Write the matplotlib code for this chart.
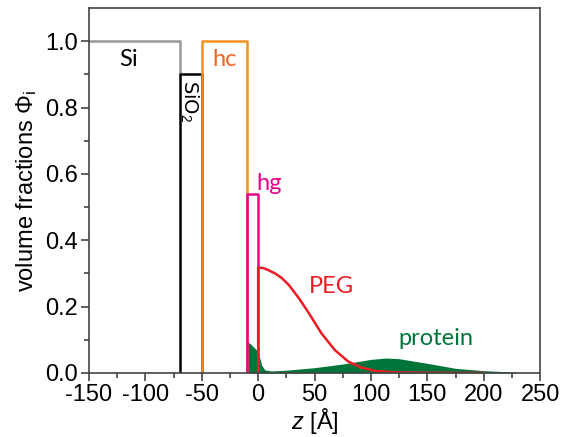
import numpy as np
import matplotlib
matplotlib.use("Agg")
import matplotlib.pyplot as plt

plt.rcParams['font.family'] = ['Liberation Sans', 'DejaVu Sans']
plt.rcParams['mathtext.fontset'] = 'custom'
plt.rcParams['mathtext.rm'] = 'Liberation Sans'
plt.rcParams['mathtext.it'] = 'Liberation Sans:italic'
plt.rcParams['axes.unicode_minus'] = False

# Box profiles (z in Angstrom, volume fraction)
si_z = [-150, -69, -69]
si_phi = [1.0, 1.0, 0.9]
sio2_z = [-69, -69, -50, -50]
sio2_phi = [0.0, 0.9, 0.9, 0.0]
hc_z = [-50, -50, -10, -10]
hc_phi = [0.0, 1.0, 1.0, 0.0]
hg_z = [-10, -10, 0, 0]
hg_phi = [0.0, 0.54, 0.54, 0.0]

# PEG brush profile
peg_z = [0, 0, 5, 9, 15, 21, 27, 36, 45, 56, 68, 80, 92, 104, 120, 140, 160, 200]
peg_phi = [0.0, 0.318, 0.316, 0.31, 0.30, 0.286, 0.266, 0.226, 0.18, 0.12, 0.069, 0.034,
           0.016, 0.006, 0.002, 0.001, 0.0005, 0.0]

# protein profile
prot_z = [-10, -7, -4, 0, 3, 6, 12, 27, 50, 75, 100, 113, 125, 150, 175, 200, 225, 231]
prot_phi = [0.095, 0.088, 0.078, 0.064, 0.024, 0.009, 0.006, 0.009, 0.016, 0.027, 0.041,
            0.045, 0.043, 0.029, 0.014, 0.007, 0.003, 0.0]

fig = plt.figure(figsize=(5.65, 4.37), dpi=100)
ax = fig.add_axes([0.1575, 0.1465, 0.7985, 0.835])

ax.fill_between(prot_z, prot_phi, 0, color="#00753a", lw=0)
ax.plot(si_z, si_phi, color="#999999", lw=1.8)
ax.plot(sio2_z, sio2_phi, color="black", lw=1.8)
ax.plot(hc_z, hc_phi, color="#f7901e", lw=1.8)
ax.plot(hg_z, hg_phi, color="#ec008c", lw=1.8)
ax.plot(peg_z, peg_phi, color="#ed1c24", lw=1.8)

lbl = dict(family=['Lato', 'DejaVu Sans'], fontsize=17)
ax.text(-115, 0.945, "Si", color="black", ha="center", va="center", **lbl)
ax.text(-60, 0.82, "SiO$_2$", color="black", ha="center", va="center", rotation=270,
        family=['DejaVu Sans'], fontsize=14)
ax.text(-30, 0.945, "hc", color="#f26522", ha="center", va="center", **lbl)
ax.text(10, 0.57, "hg", color="#ec008c", ha="center", va="center", **lbl)
ax.text(65, 0.26, "PEG", color="#ed1c24", ha="center", va="center", **lbl)
ax.text(158, 0.105, "protein", color="#00753a", ha="center", va="center", **lbl)

ax.set_xlim(-150, 250)
ax.set_ylim(0, 1.1)
ax.set_xticks(np.arange(-150, 251, 50))
ax.set_xticks(np.arange(-125, 250, 50), minor=True)
ax.set_yticks(np.arange(0, 1.01, 0.2))
ax.set_yticks(np.arange(0.1, 1.01, 0.2), minor=True)
ax.set_yticklabels([f"{v:.1f}" for v in np.arange(0, 1.01, 0.2)])
ax.tick_params(which="major", direction="out", length=6, width=1.2, labelsize=17,
               color="#444444", pad=2)
ax.tick_params(which="minor", direction="out", length=3.5, width=1.2, color="#444444")
for s in ax.spines.values():
    s.set_color("#444444")
    s.set_linewidth(1.2)

ax.set_xlabel("$z$ [Å]", fontsize=17, labelpad=0)
ax.set_ylabel("volume fractions Φ$_\\mathrm{i}$", fontsize=17, labelpad=4)

fig.savefig("out.png", dpi=100)
